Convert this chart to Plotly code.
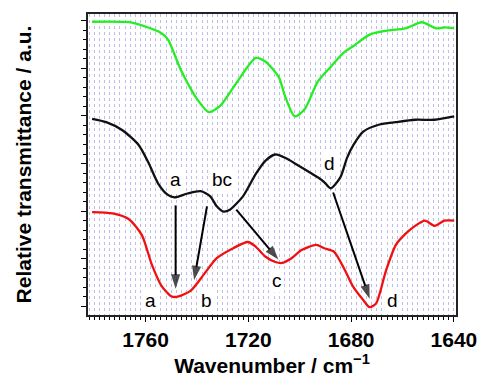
import plotly.graph_objects as go

# FTIR difference spectra (amide I region), vertically offset
green_wn = [1780.8, 1766.5, 1760.1, 1753.8, 1751.3, 1746.2, 1739.9, 1735.4, 1731.0, 1724.7,
            1717.1, 1713.3, 1708.2, 1705.7, 1701.9, 1698.1, 1693.0, 1688.0, 1682.9, 1679.1,
            1672.8, 1666.5, 1658.9, 1652.5, 1646.8, 1643.7, 1639.9]
green_t = [5.98, 5.97, 5.88, 5.74, 5.61, 4.96, 4.35, 4.08, 4.21, 4.69,
           5.22, 5.14, 4.82, 4.41, 3.99, 4.14, 4.72, 5.03, 5.33, 5.47,
           5.71, 5.79, 5.84, 5.97, 5.84, 5.86, 5.84]

black_wn = [1780.8, 1775.3, 1769.0, 1762.7, 1758.9, 1755.1, 1751.3, 1748.7, 1743.7, 1738.6,
            1734.8, 1732.3, 1729.7, 1727.2, 1722.1, 1717.1, 1713.3, 1709.5, 1705.7, 1700.6,
            1693.0, 1690.5, 1688.0, 1684.2, 1681.6, 1679.1, 1675.3, 1669.0, 1662.7, 1655.1,
            1647.5, 1639.9]
black_t = [3.94, 3.87, 3.70, 3.39, 3.02, 2.58, 2.34, 2.29, 2.37, 2.42,
           2.31, 2.10, 1.99, 2.03, 2.31, 2.78, 3.06, 3.19, 3.12, 2.96,
           2.71, 2.61, 2.48, 2.71, 3.12, 3.39, 3.67, 3.82, 3.87, 3.92,
           3.92, 3.99]

red_wn = [1780.8, 1772.8, 1766.5, 1761.4, 1757.6, 1753.8, 1750.0, 1747.5, 1742.4, 1737.3,
          1732.3, 1725.9, 1720.2, 1717.1, 1713.3, 1709.5, 1707.0, 1703.2, 1699.3, 1693.6,
          1690.5, 1686.7, 1682.9, 1679.1, 1675.3, 1672.8, 1670.3, 1666.5, 1662.6, 1658.9,
          1655.1, 1651.3, 1647.5, 1643.7, 1639.9]
red_t = [1.98, 1.95, 1.83, 1.49, 0.88, 0.43, 0.21, 0.20, 0.33, 0.67,
         1.01, 1.22, 1.35, 1.25, 1.04, 0.93, 0.91, 1.01, 1.18, 1.29,
         1.22, 1.15, 0.81, 0.40, 0.13, -0.02, 0.06, 0.74, 1.29, 1.52,
         1.69, 1.80, 1.69, 1.80, 1.80]

# band labels: (text, wavenumber, ordinate)
band_labels = [("a", 1748.3, 2.66), ("bc", 1730.4, 2.66), ("d", 1688.6, 3.00),
               ("a", 1758.2, 0.13), ("b", 1736.1, 0.13), ("c", 1708.8, 0.54),
               ("d", 1663.9, 0.13)]

# band shifts: (from wn, from t, to wn, to t)
shifts = [(1748.3, 2.12, 1748.3, 0.37),
          (1736.1, 2.10, 1741.1, 0.55),
          (1724.7, 2.03, 1708.3, 0.98),
          (1687.0, 2.39, 1672.8, 0.16)]

FONT = "Liberation Sans, Arial, Helvetica, sans-serif"

fig = go.Figure()
for wn, t, col in [(green_wn, green_t, "#22ee22"),
                   (black_wn, black_t, "#111111"),
                   (red_wn, red_t, "#f01010")]:
    fig.add_trace(go.Scatter(x=wn, y=t, mode="lines",
                             line=dict(color=col, width=2.3, shape="spline", smoothing=0.7),
                             showlegend=False, hoverinfo="skip"))

# shift arrows: a line with an arrowhead marker oriented along the segment
for x0, y0, x1, y1 in shifts:
    fig.add_trace(go.Scatter(x=[x0, x1], y=[y0, y1], mode="lines+markers",
                             line=dict(color="black", width=2),
                             marker=dict(symbol="arrow", size=[0, 15], angleref="previous",
                                         color="black", line=dict(width=0)),
                             showlegend=False, hoverinfo="skip"))

annotations = []
for txt, x, y in band_labels:
    annotations.append(dict(x=x, y=y, xref="x", yref="y", text=txt, showarrow=False,
                            font=dict(family=FONT, size=19, color="black"),
                            bgcolor="white", borderpad=1))

grid = "#bcbcf0"
fig.update_layout(
    width=489, height=380,
    margin=dict(l=88, r=24, t=12, b=58),
    paper_bgcolor="white", plot_bgcolor="white",
    font=dict(family=FONT, color="black"),
    annotations=annotations,
    xaxis=dict(
        range=[1782.4, 1639.2], tick0=1640, dtick=40,
        ticks="outside", ticklen=5, tickwidth=1, tickcolor="black",
        tickfont=dict(family=FONT, size=21, color="black", weight="bold"),
        showline=True, linecolor="#222222", linewidth=1.5, mirror=True,
        showgrid=True, gridcolor=grid, griddash="dot", gridwidth=1,
        zeroline=False,
        minor=dict(dtick=2, ticks="outside", ticklen=3, tickcolor="black",
                   showgrid=True, gridcolor=grid, griddash="dot", gridwidth=1),
        title=dict(text="<b>Wavenumber / cm<sup>\u22121</sup></b>", standoff=2,
                   font=dict(family=FONT, size=21, color="black")),
    ),
    yaxis=dict(
        range=[-0.184, 6.143], tick0=0, dtick=1,
        ticks="outside", ticklen=5, tickwidth=1, tickcolor="black",
        showticklabels=False,
        showline=True, linecolor="#222222", linewidth=1.5, mirror=True,
        showgrid=False, zeroline=False,
        minor=dict(dtick=0.2, ticks="outside", ticklen=3, tickcolor="black", showgrid=False),
        title=dict(text="<b>Relative transmittance / a.u.</b>", standoff=44,
                   font=dict(family=FONT, size=21, color="black")),
    ),
)

fig.write_html("out.html")
